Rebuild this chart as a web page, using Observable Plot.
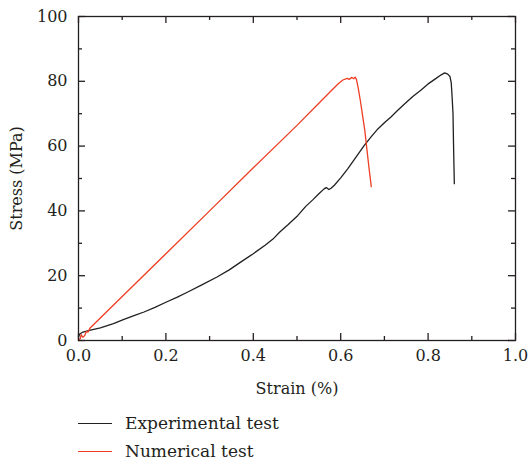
<!DOCTYPE html>
<html>
<head>
<meta charset="utf-8">
<script src="https://cdn.jsdelivr.net/npm/d3@7"></script>
<script src="https://cdn.jsdelivr.net/npm/@observablehq/plot@0.6"></script>
<style>
  body { margin: 0; background: #fff; }
  #chart { width: 528px; }
  .legend { font-family: "DejaVu Serif", serif; font-size: 17px; color: #231f20; padding-top: 9px; }
  .row { display: flex; align-items: center; height: 28px; }
  .swatch { margin-left: 78px; width: 34px; height: 0; border-top: 1.3px solid; margin-right: 13px; }
</style>
</head>
<body>
<div id="chart"></div>
<script>
const expStrain = [0,0.003,0.01,0.03,0.05,0.08,0.104,0.13,0.15,0.175,0.2,0.225,0.249,0.28,0.317,0.345,0.371,0.4,0.427,0.445,0.46,0.48,0.502,0.52,0.536,0.55,0.562,0.567,0.573,0.578,0.586,0.6,0.616,0.635,0.654,0.67,0.685,0.7,0.715,0.73,0.746,0.765,0.784,0.8,0.815,0.83,0.838,0.845,0.85,0.853,0.855,0.857,0.858,0.859,0.86];
const expStress = [1.2,2.0,2.6,3.3,3.9,5.2,6.5,7.8,8.8,10.2,11.8,13.3,14.9,17.0,19.6,21.8,24.2,26.8,29.4,31.3,33.4,35.8,38.6,41.4,43.4,45.3,46.8,47.2,46.6,47.0,48.0,50.2,53.0,56.6,60.2,62.9,65.3,67.2,69.0,71.0,73.0,75.3,77.3,79.2,80.6,82.0,82.6,82.2,81.5,79.5,75,70,62,55,48.4];
const numStrain = [0,0.004,0.006,0.01,0.014,0.018,0.022,0.026,0.1,0.2,0.3,0.4,0.5,0.55,0.58,0.595,0.605,0.615,0.62,0.625,0.63,0.633,0.636,0.64,0.645,0.65,0.655,0.66,0.665,0.67];
const numStress = [0,0.5,1.8,1.0,1.5,2.8,2.6,3.8,13.6,26.8,40,53.3,66.4,73.2,77.3,79.3,80.4,80.9,80.6,81.2,80.8,81.3,80.6,78,74,69.5,65,59,53,47.5];
const xMajor = [0,0.2,0.4,0.6,0.8,1.0];
const xMinor = [0.1,0.3,0.5,0.7,0.9];
const yMajor = [0,20,40,60,80,100];
const yMinor = [10,30,50,70,90];
const seriesNames = ["Experimental test","Numerical test"];
const seriesColors = ["#231f20","#ee3d23"];

const expData = expStrain.map((x,i)=>({x, y: expStress[i]}));
const numData = numStrain.map((x,i)=>({x, y: numStress[i]}));
const ink = "#231f20";

const W = 528, H = 400, mT = 16, mL = 78, mR = 13, mB = 60;
const pw = W - mL - mR, ph = H - mT - mB;
const major = 7, minor = 4;

const plot = Plot.plot({
  width: W, height: H,
  marginTop: mT, marginLeft: mL, marginRight: mR, marginBottom: mB,
  style: {fontFamily: "DejaVu Serif, serif", fontSize: "16px", color: ink, background: "#fff"},
  x: {domain: [0,1]},
  y: {domain: [0,100]},
  marks: [
    Plot.axisX(xMajor, {anchor: "bottom", tickSize: 0, tickPadding: 9, tickFormat: d => d.toFixed(1), label: "Strain (%)", labelAnchor: "center", labelOffset: 53, labelArrow: false}),
    Plot.axisY(yMajor, {anchor: "left", tickSize: 0, tickPadding: 11, label: "Stress (MPa)", labelAnchor: "center", labelOffset: 68, labelArrow: false}),
    // inward ticks on all four sides
    Plot.tickX(xMajor, {x: d => d, stroke: ink, strokeWidth: 1.3, insetTop: ph - major}),
    Plot.tickX(xMinor, {x: d => d, stroke: ink, strokeWidth: 1.3, insetTop: ph - minor}),
    Plot.tickX(xMajor, {x: d => d, stroke: ink, strokeWidth: 1.3, insetBottom: ph - major}),
    Plot.tickX(xMinor, {x: d => d, stroke: ink, strokeWidth: 1.3, insetBottom: ph - minor}),
    Plot.tickY(yMajor, {y: d => d, stroke: ink, strokeWidth: 1.3, insetRight: pw - major}),
    Plot.tickY(yMinor, {y: d => d, stroke: ink, strokeWidth: 1.3, insetRight: pw - minor}),
    Plot.tickY(yMajor, {y: d => d, stroke: ink, strokeWidth: 1.3, insetLeft: pw - major}),
    Plot.tickY(yMinor, {y: d => d, stroke: ink, strokeWidth: 1.3, insetLeft: pw - minor}),
    Plot.line(expData, {x: "x", y: "y", stroke: seriesColors[0], strokeWidth: 1.3}),
    Plot.line(numData, {x: "x", y: "y", stroke: seriesColors[1], strokeWidth: 1.3}),
    Plot.frame({stroke: ink, strokeWidth: 1.3})
  ]
});
document.getElementById("chart").appendChild(plot);

const legend = document.createElement("div");
legend.className = "legend";
seriesNames.forEach((name, i) => {
  const row = document.createElement("div");
  row.className = "row";
  const sw = document.createElement("span");
  sw.className = "swatch";
  sw.style.borderTopColor = seriesColors[i];
  const label = document.createElement("span");
  label.textContent = name;
  row.appendChild(sw); row.appendChild(label);
  legend.appendChild(row);
});
document.getElementById("chart").appendChild(legend);
</script>
</body>
</html>
